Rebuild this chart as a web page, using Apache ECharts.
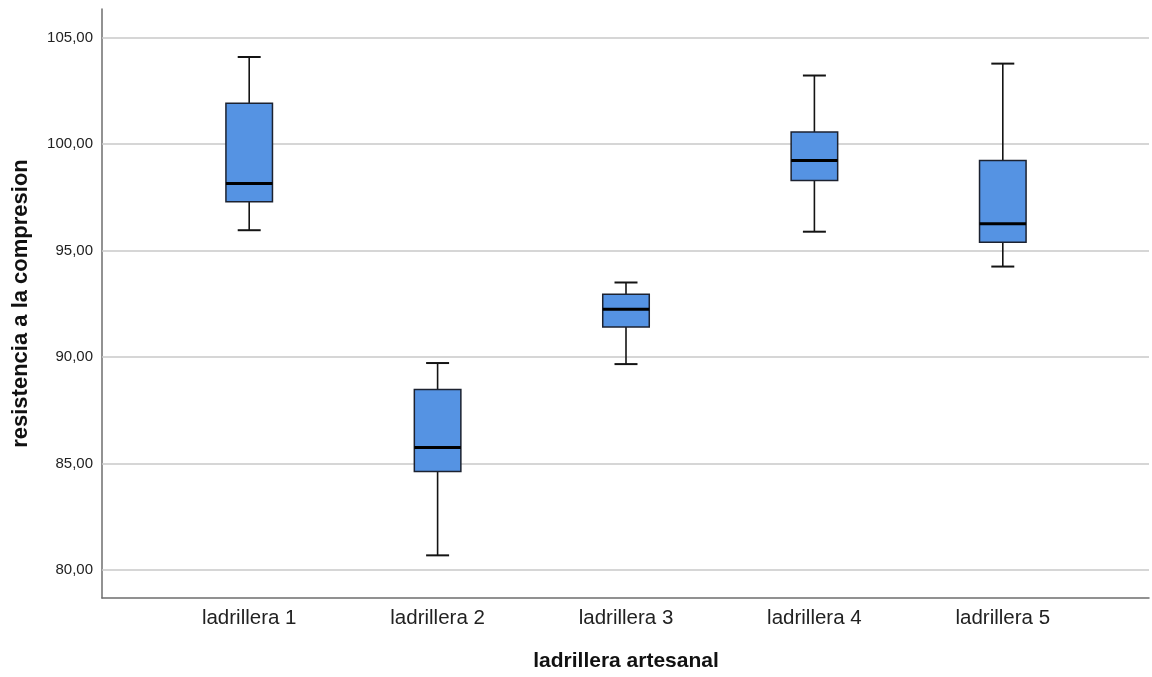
<!DOCTYPE html>
<html>
<head>
<meta charset="utf-8">
<script src="https://cdn.jsdelivr.net/npm/echarts@6/dist/echarts.min.js"></script>
<style>html,body{margin:0;padding:0;background:#fff;}#c{width:1152px;height:677px;}</style>
</head>
<body>
<div id="c"></div>
<script>
const categories = ['ladrillera 1', 'ladrillera 2', 'ladrillera 3', 'ladrillera 4', 'ladrillera 5'];
const whiskerLow  = [95.94, 80.64, 89.64, 95.87, 94.23];
const q1          = [97.28, 84.59, 91.38, 98.28, 95.37];
const median      = [98.14, 85.71, 92.22, 99.22, 96.24];
const q3          = [101.92, 88.44, 92.93, 100.56, 99.22];
const whiskerHigh = [104.09, 89.69, 93.48, 103.22, 103.78];
const yTicks = [80, 85, 90, 95, 100, 105];
const yMin = 78.68, yMax = 106.35;
const xTitle = 'ladrillera artesanal';
const yTitle = 'resistencia a la compresion';

const font = "'Liberation Sans', Arial, sans-serif";
const boxData = categories.map((c, i) => [i, whiskerLow[i], q1[i], median[i], q3[i], whiskerHigh[i]]);

const chart = echarts.init(document.getElementById('c'), null, {renderer: 'canvas'});
chart.setOption({
  backgroundColor: '#ffffff',
  animation: false,
  grid: [
    {left: 102, right: 3, top: 9, bottom: 79},
    {left: 155, right: 55, top: 9, bottom: 79}
  ],
  xAxis: [
    {gridIndex: 0, type: 'value', min: 0, max: 1,
     axisLine: {show: true, lineStyle: {color: '#6e6e6e', width: 1.5}},
     axisTick: {show: false}, axisLabel: {show: false}, splitLine: {show: false}},
    {gridIndex: 1, type: 'category', data: categories,
     axisLine: {show: false}, axisTick: {show: false},
     axisLabel: {fontSize: 20.5, color: '#222', fontFamily: font, margin: 11},
     name: xTitle, nameLocation: 'middle', nameGap: 54,
     nameTextStyle: {fontSize: 21, fontWeight: 'bold', color: '#111', fontFamily: font}}
  ],
  yAxis: [
    {gridIndex: 0, type: 'value', min: yMin, max: yMax,
     axisLine: {show: true, lineStyle: {color: '#6e6e6e', width: 1.5}},
     axisTick: {show: false},
     axisLabel: {customValues: yTicks, fontSize: 15, color: '#222', fontFamily: font, margin: 9,
       formatter: v => (Math.abs(v / 5 - Math.round(v / 5)) < 1e-6) ? v.toFixed(2).replace('.', ',') : ''},
     splitLine: {show: false},
     name: yTitle, nameLocation: 'middle', nameRotate: 90, nameGap: 70,
     nameTextStyle: {fontSize: 22, fontWeight: 'bold', color: '#111', fontFamily: font}},
    {gridIndex: 1, type: 'value', min: yMin, max: yMax, show: false, splitLine: {show: false}}
  ],
  series: [
    {type: 'line', xAxisIndex: 0, yAxisIndex: 0, data: [], silent: true, z: 1,
     markLine: {silent: true, symbol: ['none', 'none'], label: {show: false}, animation: false,
       lineStyle: {color: '#c8c8c8', width: 1.5, type: 'solid'},
       data: yTicks.map(t => ({yAxis: t}))}},
    {type: 'custom', xAxisIndex: 1, yAxisIndex: 1, z: 5, data: boxData,
     encode: {x: 0, y: [1, 2, 3, 4, 5]},
     renderItem: function (params, api) {
       const i = api.value(0);
       const lo = api.coord([i, api.value(1)]);
       const qa = api.coord([i, api.value(2)]);
       const md = api.coord([i, api.value(3)]);
       const qb = api.coord([i, api.value(4)]);
       const hi = api.coord([i, api.value(5)]);
       const band = api.size([1, 0])[0];
       const bw = band * 0.247;
       const cw = band * 0.122;
       const x = lo[0];
       const ws = {stroke: '#141414', lineWidth: 1.6};
       return {type: 'group', children: [
         {type: 'line', shape: {x1: x, y1: hi[1], x2: x, y2: qb[1]}, style: ws},
         {type: 'line', shape: {x1: x, y1: qa[1], x2: x, y2: lo[1]}, style: ws},
         {type: 'line', shape: {x1: x - cw / 2, y1: hi[1], x2: x + cw / 2, y2: hi[1]}, style: {stroke: '#141414', lineWidth: 2}},
         {type: 'line', shape: {x1: x - cw / 2, y1: lo[1], x2: x + cw / 2, y2: lo[1]}, style: {stroke: '#141414', lineWidth: 2}},
         {type: 'rect', shape: {x: x - bw / 2, y: qb[1], width: bw, height: qa[1] - qb[1]},
          style: {fill: '#5593e3', stroke: '#1c2230', lineWidth: 1.5}},
         {type: 'line', shape: {x1: x - bw / 2, y1: md[1], x2: x + bw / 2, y2: md[1]}, style: {stroke: '#000000', lineWidth: 3}}
       ]};
     }}
  ]
});
</script>
</body>
</html>
